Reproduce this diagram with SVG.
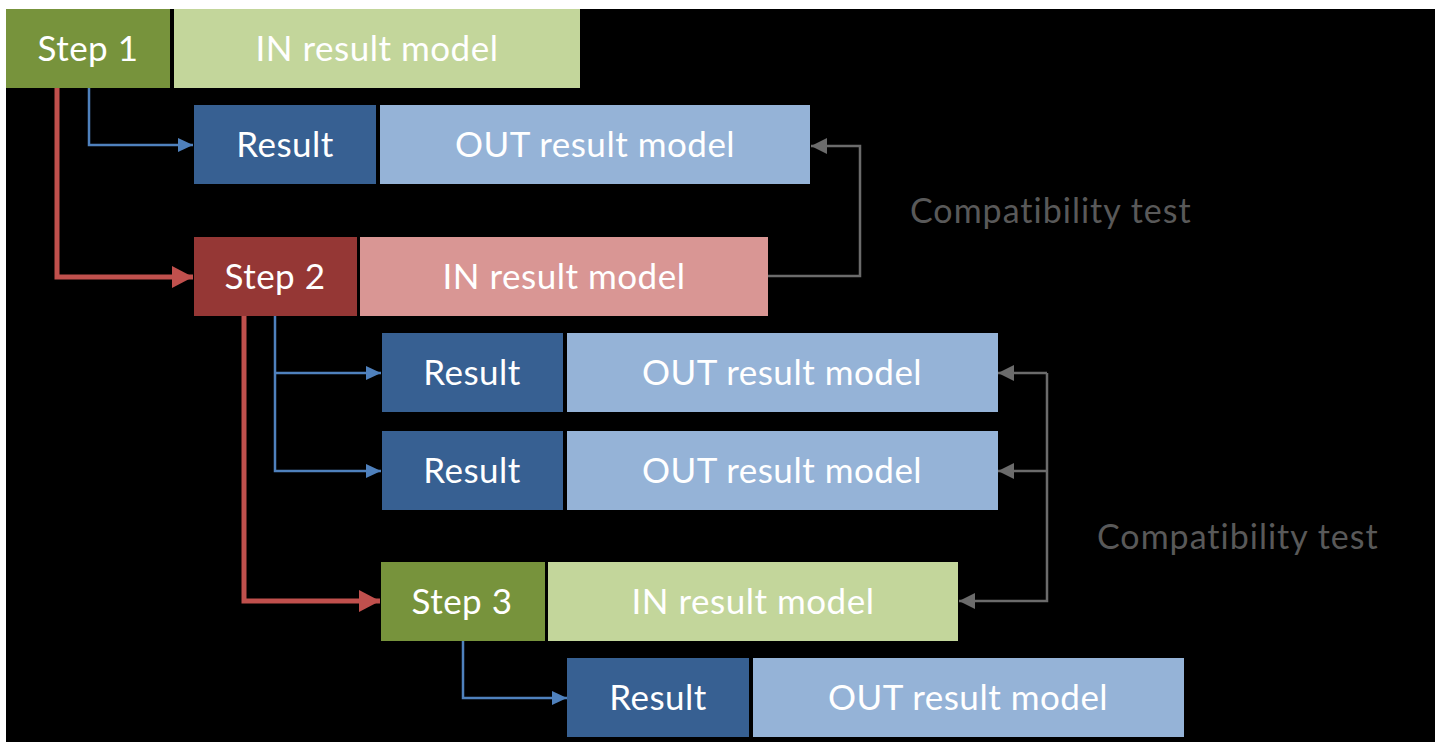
<svg xmlns="http://www.w3.org/2000/svg" width="1435" height="742" viewBox="0 0 1435 742">
<style>
.lbl{font-family:Lato,"Open Sans","Liberation Sans",sans-serif;font-size:35px;letter-spacing:0.5px;fill:#ffffff;text-anchor:middle}
.note{font-family:Lato,"Open Sans","Liberation Sans",sans-serif;font-size:34px;letter-spacing:1px;fill:#595959}
.step1,.step3{fill:#77933c}
.step2{fill:#953735}
.ingreen{fill:#c3d69b}
.inred{fill:#d99694}
.res{fill:#376092}
.out{fill:#95b3d7}
.red{fill:none;stroke:#c0504d;stroke-width:5}
.blue{fill:none;stroke:#4f81bd;stroke-width:2.5}
.gray{fill:none;stroke:#6b6b6b;stroke-width:2.5}
</style>
<defs>
<marker id="ar" markerUnits="userSpaceOnUse" markerWidth="24" markerHeight="24" refX="21" refY="12" orient="auto"><path d="M0,1 L21,12 L0,23 Z" fill="#c0504d"/></marker>
<marker id="ab" markerUnits="userSpaceOnUse" markerWidth="16" markerHeight="16" refX="15" refY="8" orient="auto"><path d="M0,1 L15,8 L0,15 Z" fill="#4f81bd"/></marker>
<marker id="ag" markerUnits="userSpaceOnUse" markerWidth="18" markerHeight="18" refX="16" refY="9" orient="auto"><path d="M0,1 L16,9 L0,17 Z" fill="#6b6b6b"/></marker>
</defs>
<rect x="0" y="0" width="1435" height="742" fill="#ffffff"/>
<rect x="6" y="9" width="1429" height="733" fill="#000000"/>

<g id="connectors">
<path class="red" d="M57,88 V277 H193" marker-end="url(#ar)"/>
<path class="blue" d="M89,88 V145 H193" marker-end="url(#ab)"/>
<path class="gray" d="M768,276 H860 V146 H811" marker-end="url(#ag)"/>
<path class="red" d="M244,316 V601 H380" marker-end="url(#ar)"/>
<path class="blue" d="M275,316 V471 H381" marker-end="url(#ab)"/>
<path class="blue" d="M275,373 H381" marker-end="url(#ab)"/>
<path class="gray" d="M1047,373 V601 H959" marker-end="url(#ag)"/>
<path class="gray" d="M1047,373 H998" marker-end="url(#ag)"/>
<path class="gray" d="M1047,471 H998" marker-end="url(#ag)"/>
<path class="blue" d="M463,641 V698 H567" marker-end="url(#ab)"/>
</g>

<g id="step1"><rect class="step1" x="6" y="9" width="164" height="79"/><text class="lbl" x="88" y="61">Step 1</text></g>
<g id="in1"><rect class="ingreen" x="174" y="9" width="406" height="79"/><text class="lbl" x="377" y="61">IN result model</text></g>

<g id="result1"><rect class="res" x="194" y="105" width="182" height="79"/><text class="lbl" x="285" y="157">Result</text></g>
<g id="out1"><rect class="out" x="380" y="105" width="430" height="79"/><text class="lbl" x="595" y="157">OUT result model</text></g>

<g id="compat1"><text class="note" x="910" y="223">Compatibility test</text></g>

<g id="step2"><rect class="step2" x="194" y="237" width="163" height="79"/><text class="lbl" x="275" y="289">Step 2</text></g>
<g id="in2"><rect class="inred" x="360" y="237" width="408" height="79"/><text class="lbl" x="564" y="289">IN result model</text></g>

<g id="result2"><rect class="res" x="382" y="333" width="181" height="79"/><text class="lbl" x="472" y="385">Result</text></g>
<g id="out2"><rect class="out" x="567" y="333" width="431" height="79"/><text class="lbl" x="782" y="385">OUT result model</text></g>

<g id="result3"><rect class="res" x="382" y="431" width="181" height="79"/><text class="lbl" x="472" y="483">Result</text></g>
<g id="out3"><rect class="out" x="567" y="431" width="431" height="79"/><text class="lbl" x="782" y="483">OUT result model</text></g>

<g id="compat2"><text class="note" x="1097" y="549">Compatibility test</text></g>

<g id="step3"><rect class="step3" x="381" y="562" width="164" height="79"/><text class="lbl" x="462" y="614">Step 3</text></g>
<g id="in3"><rect class="ingreen" x="548" y="562" width="410" height="79"/><text class="lbl" x="753" y="614">IN result model</text></g>

<g id="result4"><rect class="res" x="567" y="658" width="182" height="79"/><text class="lbl" x="658" y="710">Result</text></g>
<g id="out4"><rect class="out" x="753" y="658" width="431" height="79"/><text class="lbl" x="968" y="710">OUT result model</text></g>
</svg>
